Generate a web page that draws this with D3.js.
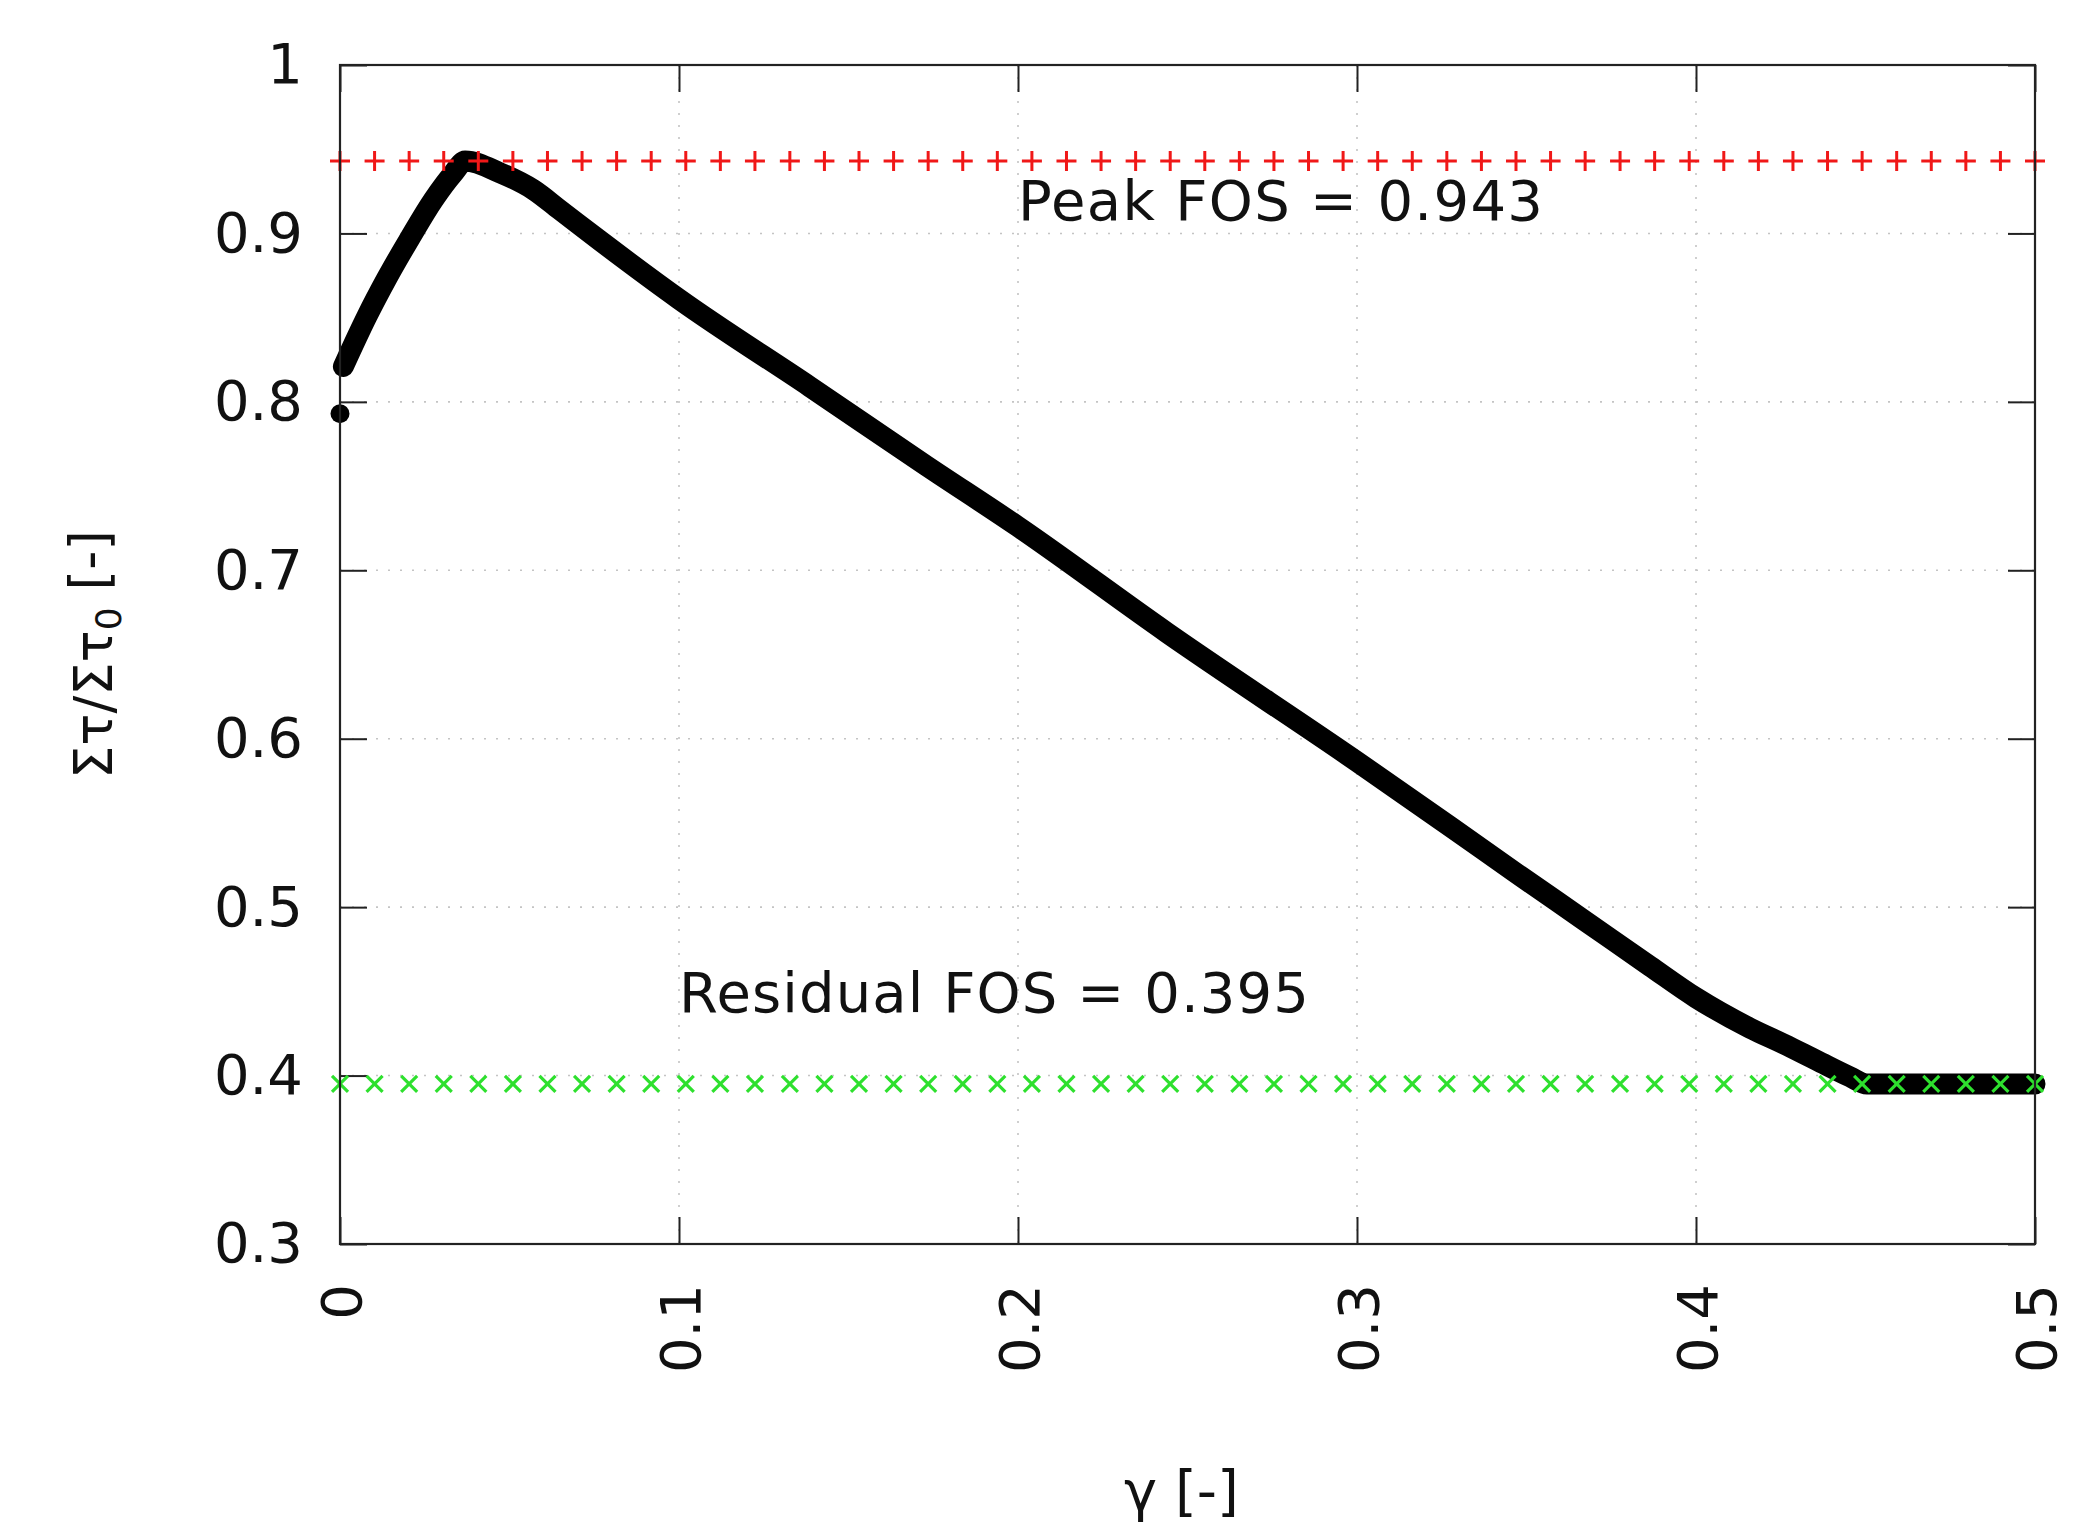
<!DOCTYPE html>
<html>
<head>
<meta charset="utf-8">
<script src="https://cdn.jsdelivr.net/npm/d3@7"></script>
<style>
  html, body { margin: 0; padding: 0; background: #fff; }
  svg { display: block; }
  text { font-family: "DejaVu Sans", Verdana, sans-serif; fill: #111; }
</style>
</head>
<body>
<svg id="chart" width="2081" height="1530"></svg>
<script>
// ---- data ----
const gammaVals = [0, 0.001, 0.0079, 0.0138, 0.0206, 0.0275, 0.0334, 0.0369,
  0.0472, 0.057, 0.0649, 0.0767, 0.1, 0.1386, 0.173, 0.2, 0.2439, 0.3, 0.3274, 0.3471,
  0.3668, 0.3864, 0.4, 0.4159, 0.4258, 0.4356, 0.4454, 0.4504, 0.5];
const fosVals = [0.793, 0.821, 0.8506, 0.8733, 0.8971, 0.9198, 0.9357, 0.943,
  0.936, 0.926, 0.9139, 0.8957, 0.861, 0.809, 0.762, 0.7259, 0.663, 0.5864, 0.548, 0.52,
  0.4925, 0.465, 0.4462, 0.4282, 0.4188, 0.409, 0.3993, 0.395, 0.395];

const peakFOS = 0.943;
const residualFOS = 0.395;
const markerGammas = [0, 0.0102, 0.0204, 0.0306, 0.0408, 0.051, 0.0612, 0.0714, 0.0816, 0.0918,
  0.102, 0.1122, 0.1224, 0.1327, 0.1429, 0.1531, 0.1633, 0.1735, 0.1837, 0.1939,
  0.2041, 0.2143, 0.2245, 0.2347, 0.2449, 0.2551, 0.2653, 0.2755, 0.2857, 0.2959,
  0.3061, 0.3163, 0.3265, 0.3367, 0.3469, 0.3571, 0.3673, 0.3776, 0.3878, 0.398,
  0.4082, 0.4184, 0.4286, 0.4388, 0.449, 0.4592, 0.4694, 0.4796, 0.4898, 0.5];

const xTicks = [0, 0.1, 0.2, 0.3, 0.4, 0.5];
const xTickLabels = ["0", "0.1", "0.2", "0.3", "0.4", "0.5"];
const yTicks = [0.3, 0.4, 0.5, 0.6, 0.7, 0.8, 0.9, 1];
const yTickLabels = ["0.3", "0.4", "0.5", "0.6", "0.7", "0.8", "0.9", "1"];

const peakLabel = "Peak FOS = 0.943";
const peakLabelPos = [0.2, 0.92];
const residualLabel = "Residual FOS = 0.395";
const residualLabelPos = [0.1, 0.45];

// ---- layout ----
const L = 340, R = 2035, T = 65, B = 1244;
const svg = d3.select("#chart");
const x = d3.scaleLinear().domain([0, 0.5]).range([L, R]);
const y = d3.scaleLinear().domain([0.3, 1]).range([B, T]);

// grid
const grid = svg.append("g").attr("stroke", "#c4c4c4").attr("stroke-width", 1.6)
  .attr("stroke-dasharray", "2,10");
grid.selectAll(".gx").data(xTicks.filter(v => v > 0 && v < 0.5)).join("line")
  .attr("x1", d => x(d)).attr("x2", d => x(d)).attr("y1", T).attr("y2", B);
grid.selectAll(".gy").data(yTicks.filter(v => v > 0.3 && v < 1)).join("line")
  .attr("y1", d => y(d)).attr("y2", d => y(d)).attr("x1", L).attr("x2", R);

// axes
const tickLen = 27;
const fmtX = d => xTickLabels[xTicks.indexOf(d)];
const fmtY = d => yTickLabels[yTicks.indexOf(d)];

const gLeft = svg.append("g").attr("transform", `translate(${L},0)`)
  .call(d3.axisLeft(y).tickValues(yTicks).tickFormat(fmtY).tickSize(-tickLen).tickSizeOuter(0).tickPadding(37));
const gBottom = svg.append("g").attr("transform", `translate(0,${B})`)
  .call(d3.axisBottom(x).tickValues(xTicks).tickFormat(fmtX).tickSize(-tickLen).tickSizeOuter(0));
const gTop = svg.append("g").attr("transform", `translate(0,${T})`)
  .call(d3.axisTop(x).tickValues(xTicks).tickFormat("").tickSize(-tickLen).tickSizeOuter(0));
const gRight = svg.append("g").attr("transform", `translate(${R},0)`)
  .call(d3.axisRight(y).tickValues(yTicks).tickFormat("").tickSize(-tickLen).tickSizeOuter(0));

[gLeft, gBottom, gTop, gRight].forEach(g => {
  g.select(".domain").remove();
  g.selectAll(".tick line").attr("stroke", "#222").attr("stroke-width", 2);
  g.selectAll(".tick text").attr("fill", "#111").style("font-size", "56px")
   .style("font-family", '"DejaVu Sans", Verdana, sans-serif');
});
gBottom.selectAll(".tick text")
  .attr("transform", "rotate(-90)")
  .attr("text-anchor", "end")
  .attr("x", -40).attr("y", 0).attr("dy", "0.36em");

// curve
const pts = gammaVals.map((g, i) => [g, fosVals[i]]);
const line = d3.line().x(d => x(d[0])).y(d => y(d[1])).curve(d3.curveMonotoneX);
svg.append("path").datum(pts.slice(1))
  .attr("d", line).attr("fill", "none").attr("stroke", "#000")
  .attr("stroke-width", 21).attr("stroke-linecap", "round").attr("stroke-linejoin", "round");
svg.append("circle").attr("cx", x(pts[0][0])).attr("cy", y(pts[0][1])).attr("r", 9.5).attr("fill", "#000");

// peak markers (+)
const s = 10;
const plus = svg.append("g").attr("stroke", "#f01818").attr("stroke-width", 3);
plus.selectAll("path").data(markerGammas).join("path")
  .attr("d", d => `M${x(d) - s},${y(peakFOS)}H${x(d) + s}M${x(d)},${y(peakFOS) - s}V${y(peakFOS) + s}`);

// residual markers (x)
const c = 8;
const cross = svg.append("g").attr("stroke", "#2ee02e").attr("stroke-width", 3.2);
cross.selectAll("path").data(markerGammas).join("path")
  .attr("d", d => `M${x(d) - c},${y(residualFOS) - c}L${x(d) + c},${y(residualFOS) + c}M${x(d) - c},${y(residualFOS) + c}L${x(d) + c},${y(residualFOS) - c}`);

// border
svg.append("rect").attr("x", L).attr("y", T).attr("width", R - L).attr("height", B - T)
  .attr("fill", "none").attr("stroke", "#222").attr("stroke-width", 2.2);

// annotations
svg.append("text").attr("x", x(peakLabelPos[0])).attr("y", y(peakLabelPos[1]))
  .attr("dy", "0.36em").style("font-size", "56px").style("letter-spacing", "1.3px").text(peakLabel);
svg.append("text").attr("x", x(residualLabelPos[0])).attr("y", y(residualLabelPos[1]))
  .attr("dy", "0.36em").style("font-size", "56px").style("letter-spacing", "1.1px").text(residualLabel);

// axis titles
const yt = svg.append("text").attr("transform", `translate(93,${(T + B) / 2}) rotate(-90)`)
  .attr("text-anchor", "middle").attr("dy", "0.36em").style("font-size", "53px");
yt.append("tspan").text("Στ/Στ");
yt.append("tspan").attr("dy", "0.25em").style("font-size", "36px").text("0");
yt.append("tspan").attr("dy", "-0.25em").text(" [-]");

svg.append("text").attr("x", (L + R) / 2 - 6).attr("y", 1490).attr("dy", "0.36em")
  .attr("text-anchor", "middle").style("font-size", "56px").text("γ [-]");
</script>
</body>
</html>
